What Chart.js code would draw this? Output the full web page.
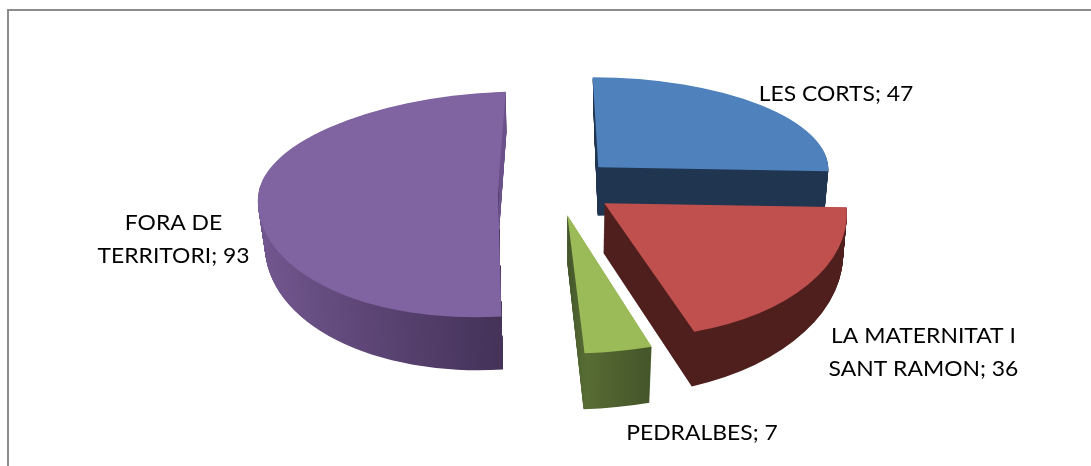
<!DOCTYPE html>
<html>
<head>
<meta charset="utf-8">
<title>Pie</title>
<script src="https://cdn.jsdelivr.net/npm/chart.js@4/dist/chart.umd.min.js"></script>
<style>
    html, body { margin: 0; padding: 0; background: #fff; overflow: hidden; }
    #wrap { width: 1091px; height: 466px; }
</style>
</head>
<body>
<div id="wrap"><canvas id="pie" width="1091" height="466"></canvas></div>
<script>
const categories = ["LES CORTS", "LA MATERNITAT I SANT RAMON", "PEDRALBES", "FORA DE TERRITORI"];
const values = [47, 36, 7, 93];
const faceColors = ["#4f81bd", "#c0504d", "#9bbb59", "#8064a2"];

// text lines of each data label, and where they sit (x centre, first baseline)
const labelLines = [["LES CORTS; 47"], ["LA MATERNITAT I", "SANT RAMON; 36"], ["PEDRALBES; 7"], ["FORA DE", "TERRITORI; 93"]];
const labelX = [836, 923.5, 702, 173.5];
const labelY = [101, 343, 439.5, 230];
const labelGap = 33;
const labelStretch = 1.09; // Lato is narrower than the Calibri of the original

// Excel's 3D perspective can't be done with one affine map, so each slice gets
// a frame for its top face and one for the bottom of its wall: a = apex, r = where
// 90deg goes, u = where 0deg goes (both relative to the apex).
// half: -1 only far half of the circle, 1 only near half, 0 everything
// wall: colours of the wall gradient, evenly spread over x range [from, to] in radii from the centre
const pieces = [
    { i: 0, half: 0, wall: ["#1f3550", "#1f3550"], from: 0, to: 1,
      top: { a: [598.3, 167.3], r: [230, 0], u: [-5.6, -90] },
      bot: { a: [597.7, 215.7], r: [227, -9], u: [-3.7, -90] } },
    { i: 3, half: -1, wall: ["#6b5189", "#6b5189"], from: -1, to: 0,
      top: { a: [498, 188], r: [240, -8], u: [7.7, -96.3] },
      bot: { a: [499, 233], r: [234, -8], u: [7.5, -101] } },
    { i: 3, half: 1, wall: ["#72578f", "#45335a"], from: -1, to: 0.02,
      top: { a: [498, 188], r: [240, -8], u: [9, -129] },
      bot: { a: [499, 233], r: [234, -8], u: [8, -137] } },
    { i: 1, half: 0, wall: ["#4f1f1e", "#4f1f1e"], from: 0, to: 1,
      top: { a: [604.3, 203.3], r: [241.7, -1.9], u: [-21.3, -134.6] },
      bot: { a: [603.3, 252.7], r: [239, -11], u: [-20.6, -143] } },
    { i: 2, half: 0, wall: ["#43552a", "#586d34", "#536631", "#4e602e", "#495a2c", "#44562a"], from: 0, to: 0.29,
      top: { a: [567.3, 215], r: [285, -4], u: [-2.6, -138.7] },
      bot: { a: [567.3, 263.3], r: [279.5, -2.5], u: [-1.85, -146.3] } }
];
const wallSteps = 70;

function mix(p, q, t) {
    return [p[0] + (q[0] - p[0]) * t, p[1] + (q[1] - p[1]) * t];
}

function frameAt(piece, t) {
    return {
        a: mix(piece.top.a, piece.bot.a, t),
        r: mix(piece.top.r, piece.bot.r, t),
        u: mix(piece.top.u, piece.bot.u, t)
    };
}

// draw one arc of the chart through a frame, with another fill if asked
function drawArc(ctx, arc, frame, half, fill) {
    const R = arc.outerRadius;
    const cx = arc.x, cy = arc.y;
    ctx.save();
    ctx.transform(
        frame.r[0] / R, frame.r[1] / R,
        -frame.u[0] / R, -frame.u[1] / R,
        frame.a[0], frame.a[1]
    );
    ctx.translate(-cx, -cy);
    if (half !== 0) {
        ctx.beginPath();
        if (half < 0) ctx.rect(cx - R - 2, cy - R - 2, 2 * R + 4, R + 2);
        else ctx.rect(cx - R - 2, cy - 2, 2 * R + 4, R + 4); // overlap so no seam shows
        ctx.clip();
    }
    const ghost = Object.create(arc);
    ghost.options = Object.assign({}, arc.options, { backgroundColor: fill, borderWidth: 0 });
    ghost.draw(ctx);
    ctx.restore();
}

const slices3d = {
    id: "slices3d",
    beforeDatasetDraw(chart, args) {
        const ctx = chart.ctx;
        const arcs = args.meta.data;
        // wall first, then the face on top, slice by slice
        pieces.forEach(piece => {
            const arc = arcs[piece.i];
            const grad = ctx.createLinearGradient(
                arc.x + piece.from * arc.outerRadius, 0,
                arc.x + piece.to * arc.outerRadius, 0
            );
            piece.wall.forEach((c, n) => grad.addColorStop(n / (piece.wall.length - 1), c));
            for (let s = wallSteps; s > 0; s--) {
                drawArc(ctx, arc, frameAt(piece, s / wallSteps), piece.half, grad);
            }
            drawArc(ctx, arc, piece.top, piece.half, faceColors[piece.i]);
        });
        return false;
    }
};

const pieLabels = {
    id: "pieLabels",
    afterDraw(chart) {
        const ctx = chart.ctx;
        ctx.save();
        ctx.font = "21px Lato";
        ctx.fillStyle = "#000";
        ctx.textAlign = "center";
        ctx.textBaseline = "alphabetic";
        ctx.scale(labelStretch, 1);
        labelLines.forEach((lines, i) => {
            lines.forEach((line, n) => {
                ctx.fillText(line, labelX[i] / labelStretch, labelY[i] + n * labelGap);
            });
        });
        ctx.restore();
    }
};

const frameBox = {
    id: "frameBox",
    beforeDraw(chart) {
        const ctx = chart.ctx;
        ctx.save();
        ctx.strokeStyle = "#8c8c8c";
        ctx.lineWidth = 2;
        ctx.beginPath();
        ctx.moveTo(8, 466);
        ctx.lineTo(8, 10);
        ctx.lineTo(1091, 10);
        ctx.stroke();
        ctx.restore();
    }
};

new Chart(document.getElementById("pie").getContext("2d"), {
    type: "pie",
    data: {
        labels: categories,
        datasets: [{ data: values, backgroundColor: faceColors, borderWidth: 0 }]
    },
    options: {
        responsive: false,
        animation: false,
        plugins: { legend: { display: false }, tooltip: { enabled: false } }
    },
    plugins: [frameBox, slices3d, pieLabels]
});
</script>
</body>
</html>
